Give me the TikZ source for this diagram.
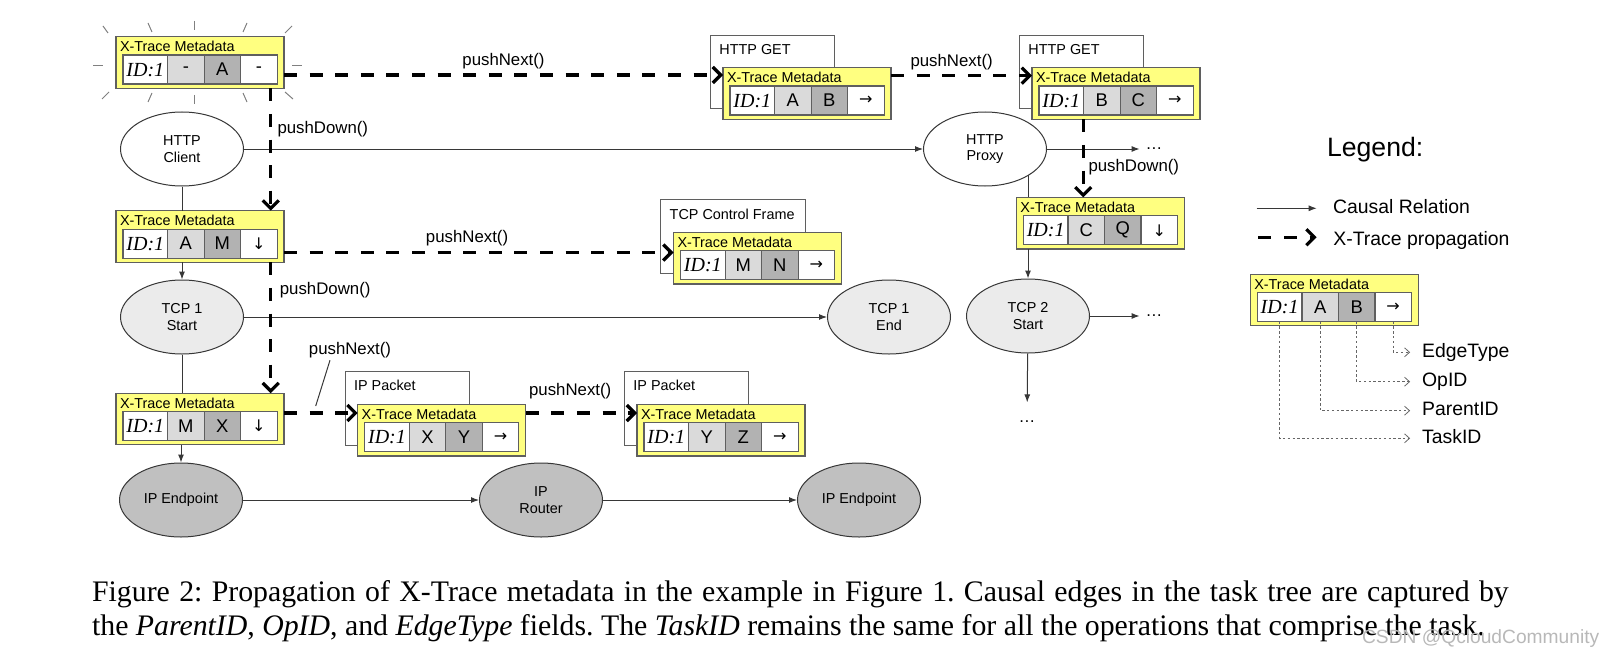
\documentclass[tikz,border=0pt]{standalone}
\usepackage{fontspec}
\setmainfont{Liberation Sans}
\newfontfamily\capfont{Liberation Serif}
\newfontfamily\arrfont{DejaVu Sans}
\usepackage{tikz}
\usetikzlibrary{shapes.geometric,positioning,arrows.meta,backgrounds}
\definecolor{metayellow}{RGB}{255,255,128}
\definecolor{boxgray}{RGB}{95,95,95}
\definecolor{linegray}{RGB}{55,55,55}
\definecolor{parentgray}{RGB}{218,218,218}
\definecolor{opgray}{RGB}{178,178,178}
\definecolor{tcpgray}{RGB}{235,235,235}
\definecolor{ipgray}{RGB}{192,192,192}
\frenchspacing

\newcommand{\edgenext}{{\arrfont\fontsize{8}{8}\selectfont →}}
\newcommand{\edgedown}{{\arrfont\fontsize{8}{8}\selectfont ↓}}
\newcommand{\xmeta}[5]{%
  \node[meta] (#1) at (#2) {};
  \node[metahead] at ([xshift=1.8pt,yshift=-5pt]#1.north west) {X-Trace Metadata};
  \node[idcell] (#1-id) at ([xshift=3.5pt,yshift=2.1pt]#1.south west) {ID:1};
  \node[cell, fill=parentgray, right=0pt of #1-id] (#1-p) {#3};
  \node[cell, fill=opgray, right=0pt of #1-p] (#1-o) {#4};
  \node[cell, fill=white, right=0pt of #1-o] (#1-e) {#5};
}

\begin{document}
\begin{tikzpicture}[x=0.5pt, y=-0.5pt,
    meta/.style={draw=boxgray, fill=metayellow, line width=0.6pt, minimum width=84pt, minimum height=25.8pt, inner sep=0pt, outer sep=0pt},
    metahead/.style={anchor=west, inner sep=0pt, font=\fontsize{7.2}{8}\selectfont},
    cell/.style={draw=boxgray, line width=0.6pt, minimum width=18.25pt, minimum height=14.5pt, inner sep=0pt, outer sep=0pt, font=\fontsize{9.2}{10}\selectfont},
    idcell/.style={cell, fill=white, minimum width=22.3pt, anchor=south west, font=\capfont\itshape\fontsize{10}{10}\selectfont},
    packet/.style={draw=boxgray, fill=white, line width=0.5pt, minimum width=62.2pt, minimum height=36.7pt, inner sep=0pt, anchor=north west},
    packtext/.style={anchor=west, inner sep=0pt, font=\fontsize{7.2}{8}\selectfont},
    proc/.style={ellipse, draw=linegray, line width=0.5pt, minimum width=61.5pt, minimum height=37pt, inner sep=0pt, align=center, font=\fontsize{7.2}{8.4}\selectfont},
    http/.style={proc, fill=white},
    tcp/.style={proc, fill=tcpgray},
    ipnode/.style={proc, fill=ipgray},
    causal/.style={draw=linegray, line width=0.5pt, -{Latex[length=4pt,width=3pt]}},
    link/.style={draw=linegray, line width=0.5pt},
    prop/.style={line width=1.6pt, dash pattern=on 6.5pt off 6.3pt, -{Straight Barb[length=4pt,width=8pt]}},
    lbl/.style={inner sep=1pt, font=\fontsize{8.4}{9}\selectfont},
    ellip/.style={inner sep=2.8pt, font=\fontsize{8.4}{9}\selectfont},
    ray/.style={draw=gray, line width=0.5pt},
    legtext/.style={anchor=west, inner sep=0pt, text height=7pt, text depth=2pt, font=\fontsize{9.7}{11}\selectfont},
    legdot/.style={draw=gray!80!black, line width=0.4pt, dash pattern=on 1.2pt off 1.2pt, -{Straight Barb[length=2.5pt,width=4.5pt]}},
    captext/.style={anchor=base west, inner sep=0pt, font=\capfont\fontsize{14.9}{16.7}\selectfont}]
  \useasboundingbox (0,0) rectangle (1620,658);

  \node[http] (client) at (182,149) {HTTP\\Client};
  \node[http] (proxy) at (985,149) {HTTP\\Proxy};
  \node[tcp] (tcp1s) at (182,317) {TCP 1\\Start};
  \node[tcp] (tcp1e) at (889,317) {TCP 1\\End};
  \node[tcp] (tcp2s) at (1028,316) {TCP 2\\Start};
  \node[ipnode] (ip1) at (181,500) {IP Endpoint};
  \node[ipnode] (router) at (541,500) {IP\\Router};
  \node[ipnode] (ip2) at (859,500) {IP Endpoint};
  \node[ellip] (more1) at (1154,149) {\ldots};
  \node[ellip] (more2) at (1154,316) {\ldots};
  \node[ellip] (more3) at (1027,421.7) {\ldots};

  \foreach \xa/\ya/\xb/\yb in {103/26/108/33, 148/23/152/32, 194/21/194/30, 247/23/243/32, 292/26/285/33, 93/66/103/66, 292/66/302/66, 102/99/109/92, 148/102/152/93, 194/95/194/104, 243/93/247/102, 285/92/293/99}
    \draw[ray] (\xa,\ya) -- (\xb,\yb);

  \xmeta{m0}{200,62.5}{-}{A}{-}
  \xmeta{m1}{807,93.5}{A}{B}{\edgenext}
  \xmeta{m2}{1116,93.5}{B}{C}{\edgenext}
  \xmeta{m3}{200,236.5}{A}{M}{\edgedown}
  \xmeta{m4}{757.5,258.2}{M}{N}{\edgenext}
  \xmeta{m5}{1100.4,223.2}{C}{Q}{\edgedown}
  \xmeta{m6}{200,419}{M}{X}{\edgedown}
  \xmeta{m7}{441.7,430.2}{X}{Y}{\edgenext}
  \xmeta{m8}{721,430.2}{Y}{Z}{\edgenext}

  \begin{scope}[on background layer]
    \node[packet] (get1) at ([xshift=-6.5pt,yshift=16.5pt]m1.north west) {};
    \node[packet] (get2) at ([xshift=-6.5pt,yshift=16.5pt]m2.north west) {};
    \node[packet, minimum width=72.3pt] (frame) at ([xshift=-6.6pt,yshift=16.5pt]m4.north west) {};
    \node[packet] (pkt1) at ([xshift=-6.6pt,yshift=16.5pt]m7.north west) {};
    \node[packet] (pkt2) at ([xshift=-6.6pt,yshift=16.5pt]m8.north west) {};
  \end{scope}
  \node[packtext] at ([xshift=4.5pt,yshift=-7.3pt]get1.north west) {HTTP GET};
  \node[packtext] at ([xshift=4.5pt,yshift=-7.3pt]get2.north west) {HTTP GET};
  \node[packtext] at ([xshift=4.5pt,yshift=-7.3pt]frame.north west) {TCP Control Frame};
  \node[packtext] at ([xshift=4.6pt,yshift=-7pt]pkt1.north west) {IP Packet};
  \node[packtext] at ([xshift=4.6pt,yshift=-7pt]pkt2.north west) {IP Packet};

  \draw[causal] (client) -- (proxy);
  \draw[causal] (proxy) -- (more1);
  \draw[link] (client.south) -- (client.south |- m3.north);
  \draw[causal] (tcp1s.north |- m3.south) -- (tcp1s.north);
  \draw[causal] (tcp1s) -- (tcp1e);
  \draw[link] (tcp1s.south) -- (tcp1s.south |- m6.north);
  \draw[causal] (ip1.north |- m6.south) -- (ip1.north);
  \draw[causal] (ip1) -- (router);
  \draw[causal] (router) -- (ip2);
  \draw[link] (proxy.-31) -- (proxy.-31 |- m5.north);
  \draw[causal] (tcp2s.north |- m5.south) -- (tcp2s.north);
  \draw[causal] (tcp2s) -- (more2);
  \draw[causal, shorten >=6.2pt] (tcp2s) -- (more3);

  \draw[prop] ([yshift=-6.25pt]m0.east) -- ([yshift=-6.25pt]m0.east -| m1.west) node[lbl, midway, above=1pt] {pushNext()};
  \draw[prop] ([yshift=8.9pt]m1.east) -- ([yshift=8.9pt]m1.east -| m2.west) node[lbl, pos=0.43, above=1.2pt] {pushNext()};
  \draw[prop] ([xshift=-6.65pt]m0.south east) -- ([xshift=-6.65pt]m0.south east |- m3.north) node[lbl, pos=0.33, right=1.6pt] {pushDown()};
  \draw[prop] ([yshift=-8pt]m3.east) -- ([yshift=-8pt]m3.east -| m4.west) node[lbl, pos=0.47, above=1.5pt] {pushNext()};
  \draw[prop] ([xshift=-6.65pt]m3.south east) -- ([xshift=-6.65pt]m3.south east |- m6.north) node[lbl, pos=0.21, right=2.8pt] {pushDown()};
  \draw[prop] ([yshift=3pt]m6.east) -- ([yshift=3pt]m6.east -| m7.west) coordinate[pos=0.43] (lead);
  \draw[prop] ([yshift=8.6pt]m7.east) -- ([yshift=8.6pt]m7.east -| m8.west) node[lbl, pos=0.4, above=5pt] {pushNext()};
  \draw[prop] ([xshift=-16.35pt]m2.south) -- ([xshift=-16.35pt]m2.south |- m5.north) node[lbl, pos=0.61, right=0.8pt] {pushDown()};
  \node[lbl] (pn) at (350,350) {pushNext()};
  \draw[link] ([xshift=-10pt]pn.south) -- ([yshift=3.5pt]lead);

  \node[anchor=west, inner sep=0pt, font=\fontsize{13.3}{15}\selectfont] (legend) at (1326.7,150) {Legend:};
  \node[legtext] (causalkey) at (1332.7,208.3) {Causal Relation};
  \node[legtext] (propkey) at (1333,240) {X-Trace propagation};
  \draw[causal] ([xshift=-38pt]causalkey.west) -- ([xshift=-8pt]causalkey.west);
  \draw[prop] ([xshift=-37.3pt,yshift=1.35pt]propkey.west) -- ([xshift=-8.2pt,yshift=1.35pt]propkey.west);
  \xmeta{key}{1334.3,300}{A}{B}{\edgenext}
  \node[legtext] (edgekey) at (1421.7,352.3) {EdgeType};
  \node[legtext] (opkey) at (1421.7,381.7) {OpID};
  \node[legtext] (parentkey) at (1421.7,410.7) {ParentID};
  \node[legtext] (taskkey) at (1421.7,438.3) {TaskID};
  \draw[legdot] (key-e.south) |- ([xshift=-5.8pt]edgekey.west);
  \draw[legdot] (key-o.south) |- ([xshift=-5.8pt]opkey.west);
  \draw[legdot] (key-p.south) |- ([xshift=-5.8pt]parentkey.west);
  \draw[legdot] (key-id.south) |- ([xshift=-5.8pt]taskkey.west);

  \node[captext] (cap1) at (91.7,601.7) {\makebox[708.3pt][s]{Figure 2: Propagation of X-Trace metadata in the example in Figure 1. Causal edges in the task tree are captured by}};
  \node[captext] (cap2) at (91.7,635) {the \textit{ParentID}, \textit{OpID}, and \textit{EdgeType} fields. The \textit{TaskID} remains the same for all the operations that comprise the task.};
  \node[anchor=west, inner sep=0pt, text=black!28, font=\fontsize{9.6}{10}\selectfont] (mark) at (1361.7,638.3) {CSDN @QcloudCommunity};
\end{tikzpicture}
\end{document}
